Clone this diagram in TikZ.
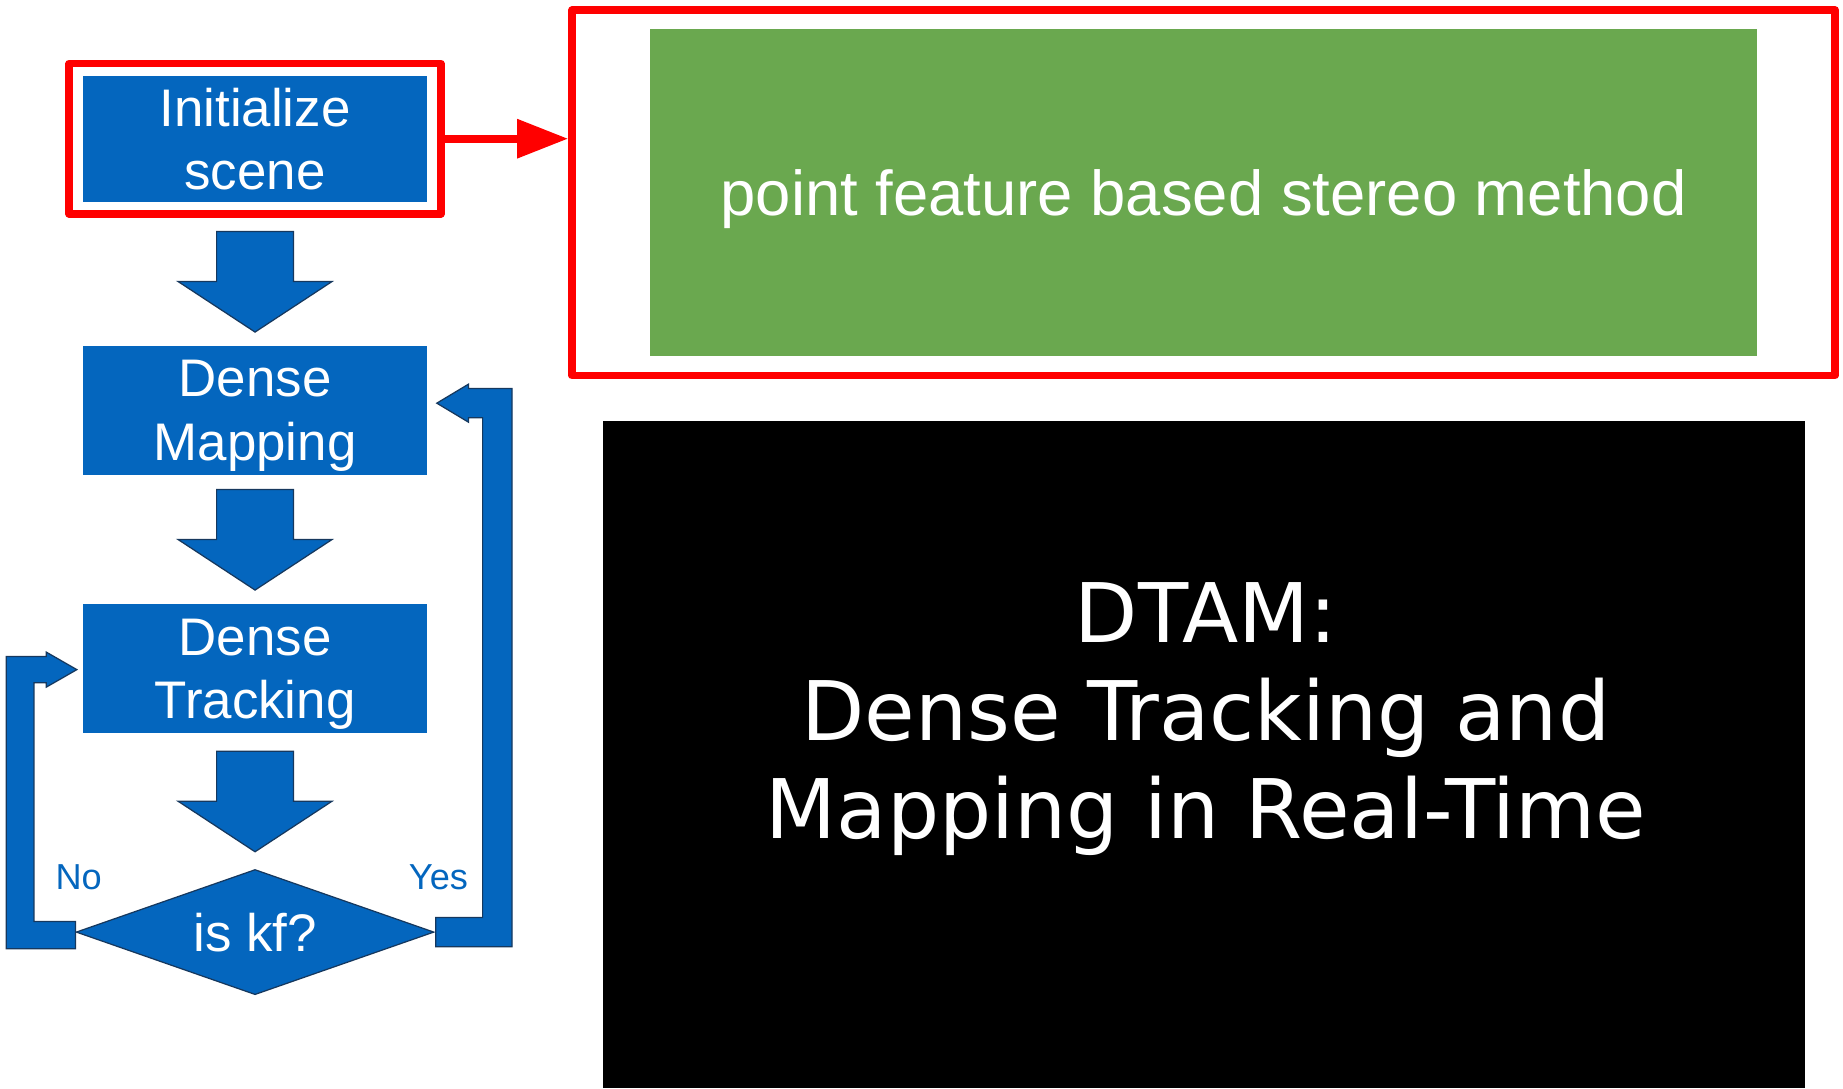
\documentclass[tikz,border=0pt]{standalone}
\usepackage{fontspec}
\setmainfont{Liberation Sans}
\newfontfamily\verafont{DejaVu Sans}
\usetikzlibrary{arrows.meta,calc,fit,shapes.geometric}

\definecolor{flowblue}{RGB}{4,102,190}
\definecolor{flowedge}{RGB}{22,56,94}
\definecolor{featgreen}{RGB}{106,168,79}

\tikzset{
  stage/.style={fill=flowblue, text=white, align=center, inner sep=0pt,
    minimum width=58.5mm, minimum height=21.9mm, text depth=0pt,
    font=\fontsize{25.6}{30.7}\selectfont},
  decision/.style={diamond, shape aspect=2.86, fill=flowblue, draw=flowedge, line width=0.6pt,
    text=white, inner sep=0pt, minimum width=60.9mm, minimum height=21.3mm,
    text depth=0pt, font=\fontsize{25.6}{30.7}\selectfont},
  redframe/.style={draw=red, line width=1.3mm, line join=round},
  fatarrow/.style={fill=flowblue, draw=flowedge, line width=0.6pt},
  branch/.style={text=flowblue, inner sep=0pt, text depth=0pt,
    font=\fontsize{17.5}{21}\selectfont},
  feature/.style={fill=featgreen, text=white, inner sep=0pt, text depth=0pt,
    minimum width=188.4mm, minimum height=55.6mm,
    font=\fontsize{30.7}{36.8}\selectfont},
  video/.style={fill=black, inner sep=0pt, minimum width=204.5mm, minimum height=113.6mm},
  videotext/.style={text=white, align=center, text depth=0pt,
    font=\verafont\fontsize{39.8}{47.5}\selectfont},
}

\begin{document}
\begin{tikzpicture}[x=0.2mm, y=-0.2mm]
\useasboundingbox (0,0) rectangle (1568,926);

% flow chart on the left
\node[stage, minimum height=21.5mm] (init) at (217,118) {Initialize\\scene};
\node[redframe, fit=(init), inner xsep=2.3mm, inner ysep=1.95mm] (initframe) {};
\node[stage] (map) at (217,349) {Dense\\Mapping};
\node[stage] (track) at (217,569) {Dense\\Tracking};
\node[decision] (dec) at (217,793) {is kf?};

\foreach \a/\b in {initframe/map, map/track, track/dec}
  \draw[fatarrow] ($(\a.south)!0.5!(\b.north)+(-32.7,-42.5)$) -- ++(65.4,0) -- ++(0,42.5)
    -- ++(32.8,0) -- ++(-65.5,43) -- ++(-65.5,-43) -- ++(32.8,0) -- cycle;

% loops back from the decision
\coordinate (yestip) at ($(map.east)+(8,-6)$);
\draw[fatarrow] ($(dec.east)+(1,-12.5)$) -| ($(yestip)+(39,12.5)$) -- ++(-12,0) -- ++(0,3.7)
  -- (yestip) -- ++(27,-16.2) -- ++(0,3.7) -- ++(37,0) |- ($(dec.east)+(1,12.5)$) -- cycle;
\coordinate (notip) at ($(track.west)+(-5,0.7)$);
\draw[fatarrow] ($(dec.west)+(0,-9)$) -| ($(notip)+(-36.5,11.2)$) -- ++(10.5,0) -- ++(0,3.7)
  -- (notip) -- ++(-26,-14.9) -- ++(0,3.7) -- ++(-34,0) |- ($(dec.west)+(0,14.2)$) -- cycle;
\node[branch] (nolabel) at (67,746) {No};
\node[branch] (yeslabel) at (373,746) {Yes};

% right side
\node[feature] (stereo) at (1024,164) {point feature based stereo method};
\node[redframe, fit=(stereo), inner xsep=13.2mm, inner ysep=3.2mm] (stereoframe) {};
\draw[redframe, -{Triangle[length=8.7mm, width=6.4mm]}] (initframe.east) -- (initframe.east -| stereoframe.west);

\node[video] (video) at (1024,642) {};
\node[videotext] (dtam) at (1026,604.5) {DTAM:\\Dense Tracking and\\Mapping in Real-Time};
\end{tikzpicture}
\end{document}
